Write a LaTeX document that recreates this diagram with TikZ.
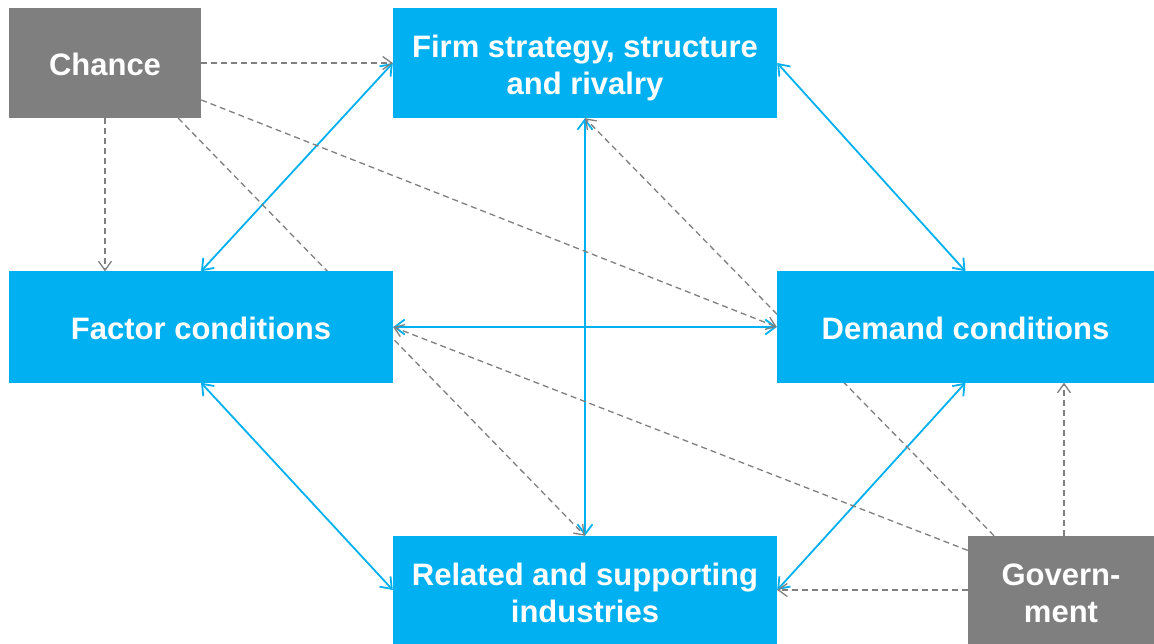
\documentclass[tikz,border=0pt]{standalone}
\usepackage{fontspec}
\setmainfont{Liberation Sans}
\usetikzlibrary{arrows.meta, backgrounds}

\definecolor{diamondblue}{HTML}{00B0F0}
\definecolor{diamondgray}{HTML}{7F7F7F}

\begin{document}
\begin{tikzpicture}[x=1pt, y=-1pt,
    every node/.style={font=\bfseries\fontsize{31}{37}\selectfont, text=white, align=center, inner sep=0pt, text height=26pt, text depth=0pt},
    twolines/.style={text height=64pt},
    bluebox/.style={fill=diamondblue, minimum width=384pt, minimum height=111pt},
    graybox/.style={fill=diamondgray, minimum height=110pt},
    link/.style={diamondblue, line width=1.8pt, {Straight Barb[length=10pt,width=15pt]}-{Straight Barb[length=10pt,width=15pt]}},
    infl/.style={diamondgray, line width=1.3pt, dash pattern=on 6pt off 4pt, -{Straight Barb[length=9pt,width=13pt]}}]
    \useasboundingbox (0,0) rectangle (1154,644);

    % The four determinants
    \node[bluebox, twolines, minimum height=110pt] (firm) at (585,63) {Firm strategy, structure\\and rivalry};
    \node[bluebox] (factor) at (201,327) {Factor conditions};
    \node[bluebox, minimum width=377pt] (demand) at (965.5,327) {Demand conditions};
    \node[bluebox, twolines, minimum height=108pt] (related) at (585,590) {Related and supporting\\industries};

    % Outside influences
    \node[graybox, minimum width=192pt] (chance) at (105,63) {Chance};
    \node[graybox, twolines, minimum width=186pt, minimum height=108pt] (gov) at (1061,590) {Govern-\\ment};

    \begin{scope}[on background layer]
    % Two-way links between the determinants
    \draw[link] (factor.north) -- (firm.west);
    \draw[link] (firm.east) -- (demand.north);
    \draw[link] (factor.east) -- (demand.west);
    \draw[link] (firm.south) -- (related.north);
    \draw[link] (factor.south) -- (related.west);
    \draw[link] (demand.south) -- (related.east);

    % Chance acts on every determinant
    \draw[infl] (chance.east) -- (firm.west);
    \draw[infl] (chance.south) -- (chance.south |- factor.north);
    \draw[infl] (chance.-21) -- (demand.west);
    \draw[infl] (chance.-37) -- (related.north); % runs under factor box

    % So does government
    \draw[infl] (gov.141) -- (firm.south); % runs under demand box
    \draw[infl] (gov.157) -- (factor.east);
    \draw[infl] (gov.west) -- (related.east);
    \draw[infl] ([xshift=3pt]gov.north) -- ([xshift=3pt]gov.north |- demand.south);
    \end{scope}
\end{tikzpicture}
\end{document}
